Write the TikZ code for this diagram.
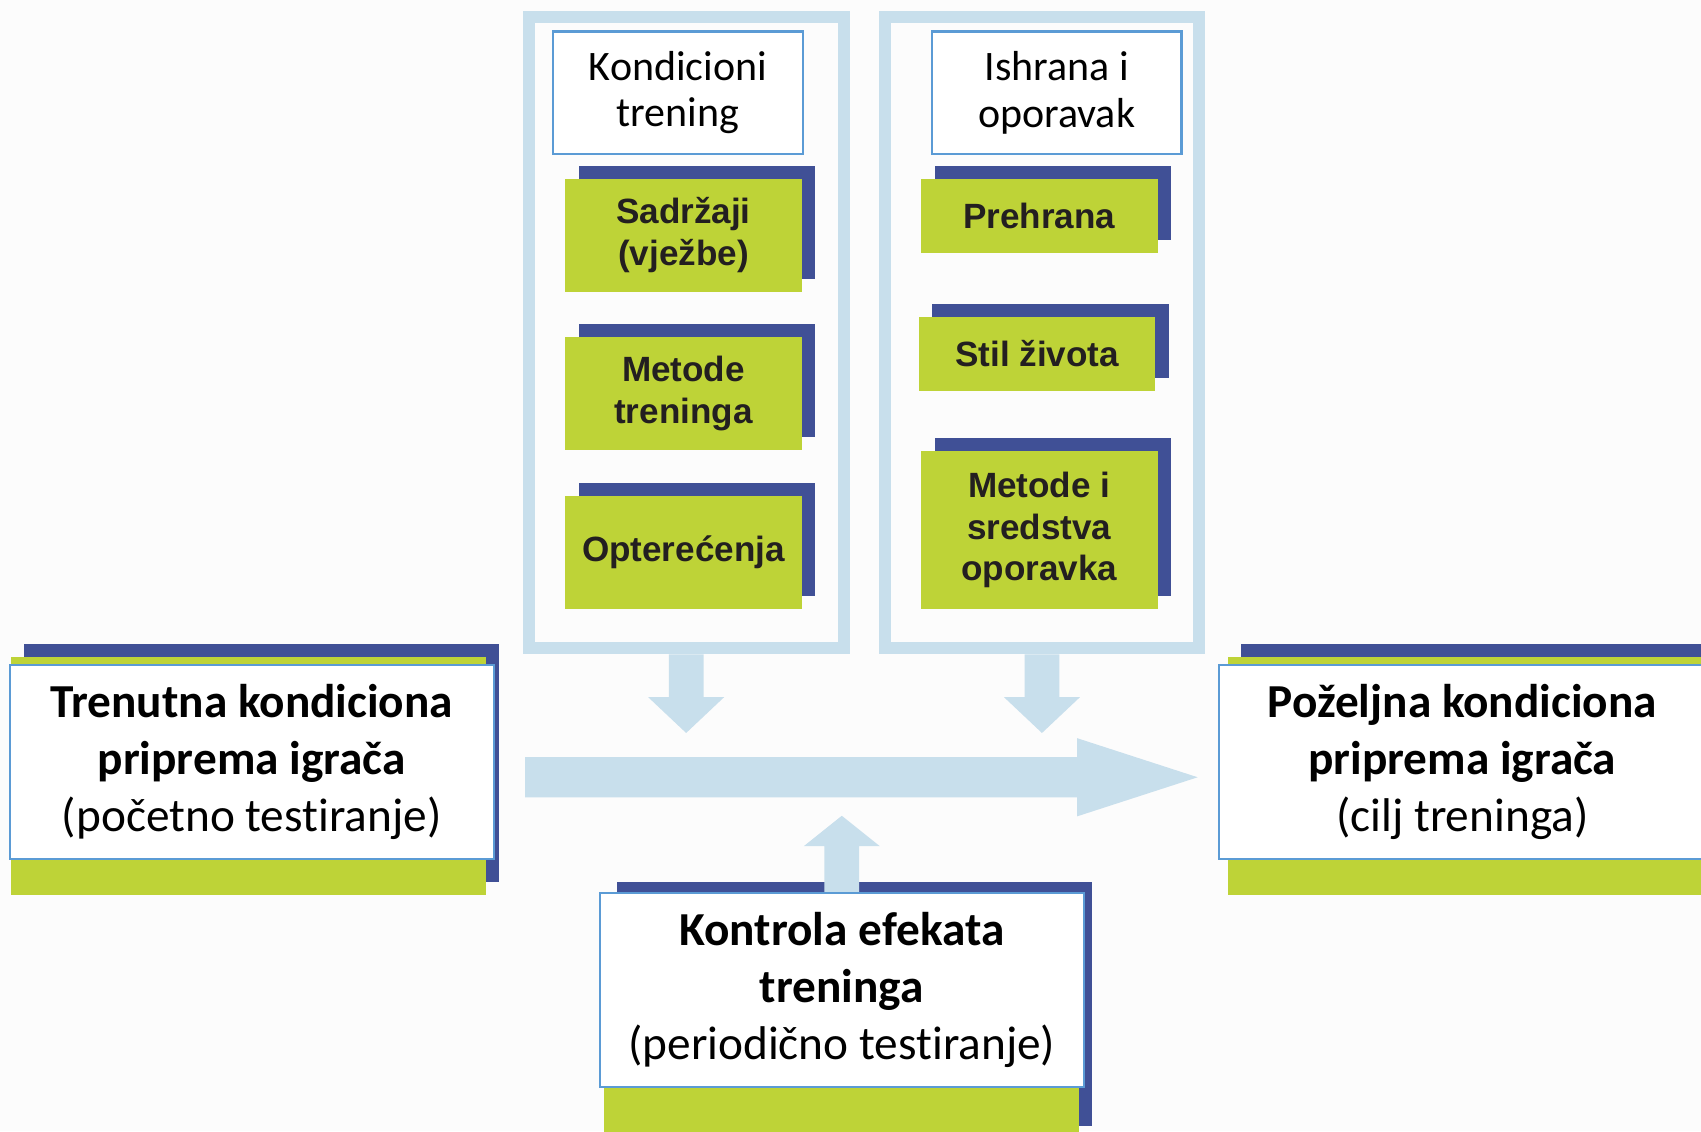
\documentclass[tikz,border=0pt]{standalone}
\usepackage{fontspec}
\setmainfont{Carlito}[Ligatures=NoCommon]
\newfontfamily\arialfont{Liberation Sans}
\usetikzlibrary{calc}
\definecolor{navy}{RGB}{64,80,150}
\definecolor{lime}{RGB}{190,211,55}
\definecolor{paleblue}{RGB}{200,223,236}
\definecolor{edgeblue}{RGB}{91,155,213}
\definecolor{bgc}{RGB}{252,252,252}
\definecolor{txtdark}{RGB}{35,31,32}
\begin{document}
\begin{tikzpicture}[x=0.01cm,y=-0.01cm,
  frame/.style={draw=paleblue, line width=0.11cm, fill=bgc, inner sep=0pt,
     minimum width=2.9cm, minimum height=5.82cm},
  headbox/.style={draw=edgeblue, line width=0.02cm, fill=white, inner sep=0pt, align=center,
     font=\fontsize{11}{13}\selectfont, minimum width=2.3cm, minimum height=1.13cm},
  bigbox/.style={draw=edgeblue, line width=0.02cm, fill=white, inner sep=0pt, align=center,
     font=\fontsize{12.4}{15}\selectfont, minimum width=4.46cm, minimum height=1.79cm},
  tile/.style={fill=lime, inner sep=0pt, align=center, text=txtdark,
     font=\arialfont\bfseries\fontsize{9.2}{11}\selectfont, minimum width=2.18cm,
     preaction={fill=navy, transform canvas={shift={(0.125cm,0.12cm)}}}},
  backplate/.style={fill=lime,
     preaction={fill=navy, transform canvas={shift={(0.12cm,0.12cm)}}}},
  flow/.style={fill=paleblue}
]
\useasboundingbox[fill=bgc] (0,0) rectangle (1568,1043);

% panels
\node[frame] (panelL) at (632.5,306.5) {};
\node[frame] (panelR) at (960.5,306.5) {};

% panel headers
\node[headbox] (kond) at (625,85.5) {\raisebox{-3pt}{\shortstack{Kondicioni\\[1.5pt]trening}}};
\node[headbox] (ishr) at (974,85.5) {\raisebox{-3pt}{\shortstack{Ishrana i\\[1.5pt]oporavak}}};

% left tiles
\node[tile, minimum height=1.04cm] (sadr) at (630,217) {Sadržaji\\(vježbe)};
\node[tile, minimum height=1.04cm] (metT) at (630,363) {Metode\\treninga};
\node[tile, minimum height=1.04cm] (opt) at (630,509) {Opterećenja};

% right tiles
\node[tile, minimum height=0.68cm] (preh) at (958,199) {Prehrana};
\node[tile, minimum height=0.68cm] (stil) at (956,326) {Stil života};
\node[tile, minimum height=1.45cm] (metO) at (958,488.5) {Metode i\\sredstva\\oporavka};

% down arrows from panels
\coordinate (dL) at (panelL.south);
\coordinate (dR) at (panelR.south);
\foreach \c in {dL,dR}{
  \fill[flow] ($(\c)+(-16,0)$) -- ($(\c)+(16,0)$) -- ($(\c)+(16,39.5)$) -- ($(\c)+(35,39.5)$)
     -- ($(\c)+(0,72.5)$) -- ($(\c)+(-35,39.5)$) -- ($(\c)+(-16,39.5)$) -- cycle;
}

% main horizontal arrow
\coordinate (hs) at (484,716.5);
\coordinate (he) at (1104,716.5);
\fill[flow] ($(hs)+(0,-18.5)$) -- ($(he)+(-111,-18.5)$) -- ($(he)+(-111,-36)$) -- (he)
   -- ($(he)+(-111,36)$) -- ($(he)+(-111,18.5)$) -- ($(hs)+(0,18.5)$) -- cycle;

% left big box
\path[backplate] (10,606) rectangle (448,825);
\node[bigbox] (cur) at (232,702.5)
  {\textbf{Trenutna kondiciona}\\\textbf{priprema igrača}\\(početno testiranje)};

% right big box
\path[backplate] (1132,606) rectangle (1570,825);
\node[bigbox, minimum width=4.48cm] (goal) at (1348,702.5)
  {\textbf{Poželjna kondiciona}\\\textbf{priprema igrača}\\(cilj treninga)};

% bottom box
\path[backplate] (557,825) rectangle (995,1050);
\coordinate (uB) at (776,823);
\fill[flow] ($(uB)+(-16,0)$) -- ($(uB)+(16,0)$) -- ($(uB)+(16,-43)$) -- ($(uB)+(35,-43)$)
   -- ($(uB)+(0,-71)$) -- ($(uB)+(-35,-43)$) -- ($(uB)+(-16,-43)$) -- cycle;
\node[bigbox] (ctl) at (776,912.5)
  {\textbf{Kontrola efekata}\\\textbf{treninga}\\(periodično testiranje)};
\end{tikzpicture}
\end{document}
